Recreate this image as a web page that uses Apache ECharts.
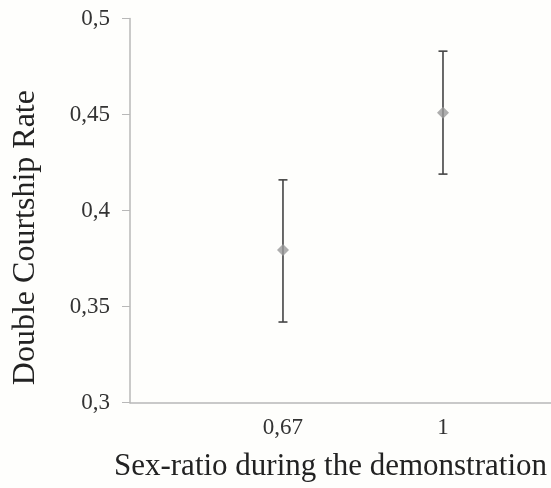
<!DOCTYPE html>
<html><head><meta charset="utf-8">
<script src="https://cdn.jsdelivr.net/npm/echarts@6/dist/echarts.min.js"></script>
<style>html,body{margin:0;padding:0;background:#fefefc}#c{width:551px;height:488px}</style>
</head><body><div id="c"></div>
<script>
const categories = ['0,67', '1'];
const means = [0.3795, 0.451];
const upper = [0.416, 0.483];
const lower = [0.342, 0.419];
const yTicks = [0.3, 0.35, 0.4, 0.45, 0.5];
const yTickLabels = ['0,3', '0,35', '0,4', '0,45', '0,5'];

const font = 'Liberation Serif, Times New Roman, serif';
const chart = echarts.init(document.getElementById('c'), null, {renderer: 'canvas'});
const idx = categories.map((c, i) => i);
chart.setOption({
  backgroundColor: '#fefefc',
  animation: false,
  grid: {left: 130, top: 18.5, right: 0, bottom: 85.3},
  xAxis: {
    type: 'value', min: -0.956, max: 1.675,
    name: 'Sex-ratio during the demonstration', nameLocation: 'middle', nameGap: 49,
    nameTextStyle: {fontFamily: font, fontSize: 31, color: '#222', padding: [0, 20, 0, 0]},
    axisLine: {show: true, onZero: false, lineStyle: {color: '#b8b8b8', width: 1.5}},
    axisTick: {show: false},
    splitLine: {show: false},
    axisLabel: {customValues: idx, formatter: v => categories[Math.round(v)], fontFamily: font, fontSize: 23, color: '#333', margin: 14}
  },
  yAxis: {
    type: 'value', min: 0.3, max: 0.5, interval: 0.05,
    name: 'Double Courtship Rate', nameLocation: 'middle', nameGap: 88,
    nameTextStyle: {fontFamily: font, fontSize: 32, color: '#222', padding: [0, 54, 0, 0]},
    axisLine: {show: true, onZero: false, lineStyle: {color: '#b8b8b8', width: 1.5}},
    axisTick: {show: true, inside: false, length: 8, lineStyle: {color: '#b8b8b8'}, customValues: yTicks},
    splitLine: {show: false},
    axisLabel: {customValues: yTicks, formatter: v => yTickLabels[yTicks.findIndex(t => Math.abs(t - v) < 1e-6)], fontFamily: font, fontSize: 23, color: '#333', margin: 20}
  },
  series: [
    {
      type: 'custom',
      data: idx.map(i => [i, lower[i], upper[i]]),
      renderItem: function (params, api) {
        const x = api.value(0);
        const lo = api.coord([x, api.value(1)]);
        const hi = api.coord([x, api.value(2)]);
        const cw = 4.5;
        const st = {stroke: '#444', lineWidth: 1.6};
        return {type: 'group', children: [
          {type: 'line', shape: {x1: lo[0], y1: lo[1], x2: hi[0], y2: hi[1]}, style: st},
          {type: 'line', shape: {x1: lo[0] - cw, y1: lo[1], x2: lo[0] + cw, y2: lo[1]}, style: st},
          {type: 'line', shape: {x1: hi[0] - cw, y1: hi[1], x2: hi[0] + cw, y2: hi[1]}, style: st}
        ]};
      },
      z: 2
    },
    {
      type: 'scatter',
      data: idx.map(i => [i, means[i]]),
      symbol: 'diamond', symbolSize: 12,
      itemStyle: {color: '#9a9a9a'},
      z: 3
    }
  ]
});
</script></body></html>
